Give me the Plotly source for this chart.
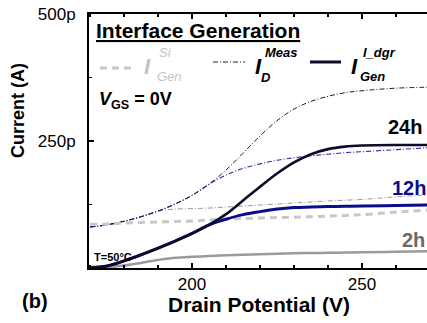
import plotly.graph_objects as go

# ---------------- data ----------------
drain_v = [170, 175, 180, 185, 190, 195, 200, 205, 210, 215, 220, 225, 230, 235, 240, 245, 250, 260, 270]

# measured drain current (pA)
meas_24h = [80.7, 85, 92, 101, 112, 126, 143, 165, 193, 226, 260, 290, 313, 328, 338, 345, 349, 354, 356]
meas_12h = [80.7, 85, 92, 101, 112, 126, 143, 165, 183, 196, 205, 212, 217, 221, 224, 227, 229, 233, 237]
meas_2h = [80.7, 85, 92, 101, 112, 116, 117, 118, 120, 122, 124, 126, 128, 130, 132, 133.5, 135, 140, 144]

# silicon generation current (pA)
gen_si = [86, 86.6, 88.6, 89.6, 90.6, 91.5, 92.5, 94.5, 96.5, 97.5, 98.4, 99.2, 100, 101, 102, 103.5, 105, 110, 114]

# interface generation current (pA)
gen_24h = [1, 4, 14, 26, 39, 53, 68, 85, 106, 133, 160, 186, 208, 224, 234, 239, 241, 242, 242]
gen_12h = [1, 4, 14, 26, 39, 53, 68, 85, 96, 105, 111, 116, 119, 120, 121, 121.5, 122, 123, 124]
gen_2h = [0, 2, 5, 10, 16, 20, 22, 23.5, 25, 26, 27, 28, 29, 29.5, 30, 30.5, 31, 32, 33]

y_tickvals = [250, 500]
y_ticktext = ["250p", "500p"]
x_tickvals = [200, 250]
x_ticktext = ["200", "250"]

FONT = "Liberation Sans, Arial, sans-serif"

# ---------------- layout geometry (pixels) ----------------
W, H = 427, 323
L, R, T, B = 89, 0, 14, 55
PW, PH = W - L - R, H - T - B


def X(px):
    return (px - L) / PW


def Y(py):
    return (H - B - py) / PH


fig = go.Figure()

DD = "5px,2px,1px,2px"
fig.add_trace(go.Scatter(x=drain_v, y=meas_2h, mode="lines", line=dict(color="#9a9a9a", width=1, dash=DD, shape="spline")))
fig.add_trace(go.Scatter(x=drain_v, y=meas_12h, mode="lines", line=dict(color="#2a2ab8", width=1.1, dash=DD, shape="spline")))
fig.add_trace(go.Scatter(x=drain_v, y=meas_24h, mode="lines", line=dict(color="#1c1c40", width=1, dash=DD, shape="spline")))
fig.add_trace(go.Scatter(x=drain_v, y=gen_si, mode="lines", line=dict(color="#c8c8c8", width=3, dash="7px,5px", shape="spline")))
fig.add_trace(go.Scatter(x=drain_v, y=gen_2h, mode="lines", line=dict(color="#9a9a9a", width=2.5, shape="spline")))
fig.add_trace(go.Scatter(x=drain_v, y=gen_12h, mode="lines", line=dict(color="#0c0c8c", width=3, shape="spline")))
fig.add_trace(go.Scatter(x=drain_v, y=gen_24h, mode="lines", line=dict(color="#0c0c28", width=2.6, shape="spline")))

ann = []


def text(t, px, py, size, color="black", xa="center", ya="middle", bold=True, italic=False, angle=0):
    s = t
    if italic:
        s = "<i>" + s + "</i>"
    if bold:
        s = "<b>" + s + "</b>"
    ann.append(dict(text=s, x=X(px), y=Y(py), xref="paper", yref="paper", showarrow=False,
                    xanchor=xa, yanchor=ya, textangle=angle,
                    font=dict(family=FONT, size=size, color=color)))


text("<u>Interface Generation</u>", 94, 31, 21, xa="left")
# legend: Si generation
text("I", 147, 66, 22, color="#c4c4c4", italic=True)
text("Si", 157, 53, 13, color="#c4c4c4", italic=True, xa="left", bold=False)
text("Gen", 155, 76, 13, color="#c4c4c4", italic=True, xa="left", bold=False)
# legend: measured
text("I", 258, 66, 22, italic=True)
text("Meas", 263, 53, 13, italic=True, xa="left")
text("D", 259, 77, 13, italic=True, xa="left")
# legend: interface generation
text("I", 354, 66, 22, italic=True)
text("I_dgr", 361, 53, 13, italic=True, xa="left")
text("Gen", 358, 76, 13, italic=True, xa="left")

text("<i>V</i><sub>GS</sub> = 0V", 97, 101, 18, xa="left")
text("T=50°C", 92, 257, 11, xa="left")
text("24h", 405, 127, 20)
text("12h", 409, 188, 20, color="#0c0c8c")
text("2h", 413, 240, 20, color="#6a6a6a")
text("(b)", 35, 301, 20)
text("Drain Potential (V)", 259, 304, 21)
text("Current (A)", 18, 111, 18, angle=-90)

shapes = [
    dict(type="line", xref="paper", yref="paper", x0=X(100), x1=X(136), y0=Y(68), y1=Y(68),
         line=dict(color="#c8c8c8", width=3, dash="7px,5px")),
    dict(type="line", xref="paper", yref="paper", x0=X(213), x1=X(245), y0=Y(62), y1=Y(62),
         line=dict(color="#1c1c40", width=1, dash=DD)),
    dict(type="line", xref="paper", yref="paper", x0=X(310), x1=X(341), y0=Y(62), y1=Y(62),
         line=dict(color="#0c0c28", width=3)),
]

fig.update_layout(
    width=W, height=H,
    margin=dict(l=L, r=R, t=T, b=B, pad=0),
    paper_bgcolor="white", plot_bgcolor="white",
    showlegend=False, hovermode=False,
    annotations=ann, shapes=shapes,
    font=dict(family=FONT, color="black"),
    xaxis=dict(range=[169.7, 269.1], showgrid=False, zeroline=False,
               showline=True, linecolor="black", linewidth=2, mirror="ticks",
               ticks="inside", ticklen=5, tickwidth=1.5, tickcolor="black",
               tickvals=x_tickvals, ticktext=x_ticktext,
               tickfont=dict(family=FONT, size=17, color="black"),
               minor=dict(dtick=10, tick0=170, ticks="inside", ticklen=3, tickwidth=1.2, tickcolor="black")),
    yaxis=dict(range=[0, 500], showgrid=False, zeroline=False,
               showline=True, linecolor="black", linewidth=2,
               ticks="inside", ticklen=5, tickwidth=1.5, tickcolor="black",
               tickvals=y_tickvals, ticktext=y_ticktext, ticklabelstandoff=8,
               tickfont=dict(family=FONT, size=17, color="black"),
               minor=dict(tickvals=[125, 375], ticks="inside", ticklen=3, tickwidth=1.2, tickcolor="black")),
)
fig.update_xaxes(tickprefix="<b>", ticksuffix="</b>")
fig.update_yaxes(tickprefix="<b>", ticksuffix="</b>")

fig.write_html("out.html", config={"displayModeBar": False, "staticPlot": True},
               post_script="document.body.style.margin='0';document.body.style.overflow='hidden';")
